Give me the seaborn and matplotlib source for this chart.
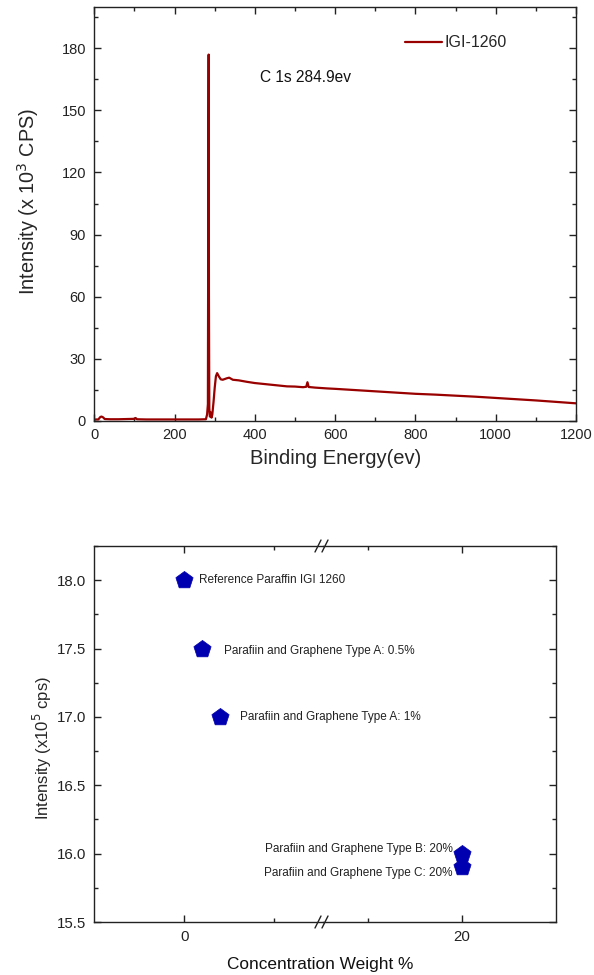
import numpy as np
import pandas as pd
import matplotlib
matplotlib.use("Agg")
import matplotlib.pyplot as plt
from matplotlib.ticker import MultipleLocator, FixedLocator
import seaborn as sns

sns.set_style("ticks")
plt.rcParams['font.family'] = ['Liberation Sans', 'DejaVu Sans']

# ---------------- data: XPS survey spectrum ----------------
energy = [0, 5, 10, 15, 18, 22, 26, 40, 60, 80, 100, 103, 106, 130, 160, 200, 230, 260,
          278, 281, 283, 284, 284.9, 285.6, 286.5, 288, 290, 292, 294, 297, 300, 303, 306,
          310, 315, 320, 330, 336, 345, 360, 380, 400, 420, 450, 480, 500, 520, 528, 531,
          534, 550, 580, 600, 650, 700, 750, 800, 850, 900, 950, 1000, 1050, 1100, 1150, 1200]
intensity = [0.5, 0.6, 0.6, 1.8, 2.0, 1.6, 0.8, 0.7, 0.7, 0.8, 0.9, 1.3, 0.7, 0.6, 0.6, 0.6, 0.6, 0.6,
             0.7, 3.0, 8.0, 110.0, 177.0, 60.0, 6.0, 2.0, 4.0, 1.5, 3.0, 9.0, 16.0, 21.5, 23.0,
             21.5, 20.0, 19.8, 20.5, 20.8, 19.8, 19.5, 18.8, 18.2, 17.8, 17.2, 16.6, 16.5, 16.2, 16.4, 18.6,
             16.3, 16.0, 15.6, 15.4, 14.8, 14.2, 13.6, 13.0, 12.6, 12.1, 11.6, 11.0, 10.4, 9.8, 9.1, 8.4]
series_name = "IGI-1260"

# ---------------- data: intensity vs concentration ----------------
conc = [0, 0.5, 1, 20, 20]
peak_intensity = [18.0, 17.5, 17.0, 16.0, 15.9]
sample_labels = ["Reference Paraffin IGI 1260",
                 "Parafiin and Graphene Type A: 0.5%",
                 "Parafiin and Graphene Type A: 1%",
                 "Parafiin and Graphene Type B: 20%",
                 "Parafiin and Graphene Type C: 20%"]

W, H = 594, 975
fig = plt.figure(figsize=(W / 100, H / 100), dpi=100)

def fx(px):
    return px / W

def fy(py):
    return 1 - py / H

INK = '#222222'

# ---------------- top panel ----------------
ax1 = fig.add_axes([fx(94.3), fy(420.7), fx(576 - 94.3), (420.7 - 7) / H])
df1 = pd.DataFrame({"energy": energy, "intensity": intensity, "s": series_name})
sns.lineplot(data=df1, x="energy", y="intensity", hue="s", palette=["#990000"],
             lw=1.6, ax=ax1, sort=False, estimator=None)
ax1.set_xlim(0, 1200)
ax1.set_ylim(0, 200)
ax1.xaxis.set_major_locator(MultipleLocator(200))
ax1.xaxis.set_minor_locator(MultipleLocator(100))
ax1.yaxis.set_major_locator(FixedLocator([0, 30, 60, 90, 120, 150, 180]))
ax1.yaxis.set_minor_locator(MultipleLocator(15))
ax1.tick_params(which='both', direction='in', top=True, right=True, labelsize=10.5, colors=INK)
ax1.tick_params(which='major', length=5, width=1)
ax1.tick_params(which='minor', length=3, width=1)
ax1.tick_params(axis='y', pad=6)
ax1.tick_params(axis='x', pad=5)
ax1.set_xlabel("Binding Energy(ev)", fontsize=14.5, labelpad=5)
ax1.set_ylabel("Intensity (x 10$^3$ CPS)", fontsize=14.3)
ax1.yaxis.set_label_coords(-0.111, 0.531)
for sp in ax1.spines.values():
    sp.set_linewidth(1.0)
    sp.set_color(INK)
ax1.text(413, 166, "C 1s 284.9ev", fontsize=11.2, va='center', ha='left', color='#111111')
leg = ax1.legend(loc='center left', bbox_to_anchor=(0.645, 0.913), frameon=False,
                 fontsize=11.5, handlelength=2.3, handletextpad=0.15, borderaxespad=0,
                 borderpad=0)

# ---------------- bottom panel (broken x axis) ----------------
x_break = 323
axL = fig.add_axes([fx(94.3), fy(922), fx(x_break - 94.3), (922 - 546) / H])
axR = fig.add_axes([fx(x_break), fy(922), fx(556 - x_break), (922 - 546) / H], sharey=axL)
df2 = pd.DataFrame({"conc": conc, "val": peak_intensity, "label": sample_labels})
for ax in (axL, axR):
    ax.patch.set_visible(False)
    sns.scatterplot(data=df2, x="conc", y="val", marker='p', s=170, color="#0000B0",
                    edgecolor="#0000B0", linewidth=0.5, ax=ax, clip_on=False, zorder=5)
    ax.set_xlabel("")
    ax.set_ylabel("")
    for sp in ax.spines.values():
        sp.set_linewidth(1.0)
        sp.set_color(INK)

axL.set_xlim(-2.5, 3.85)
axR.set_xlim(16.3, 22.5)
axL.set_ylim(15.5, 18.25)
axL.yaxis.set_major_locator(MultipleLocator(0.5))
axL.yaxis.set_minor_locator(MultipleLocator(0.25))
axL.yaxis.set_major_formatter(matplotlib.ticker.FormatStrFormatter('%.1f'))
axL.xaxis.set_major_locator(FixedLocator([0]))
axL.xaxis.set_minor_locator(FixedLocator([2.5]))
axR.xaxis.set_major_locator(FixedLocator([20]))
axR.xaxis.set_minor_locator(FixedLocator([17.5]))
axL.spines['right'].set_visible(False)
axR.spines['left'].set_visible(False)
axL.tick_params(which='both', direction='in', top=True, right=False, left=True, labelsize=10.8,
                colors=INK)
axR.tick_params(which='both', direction='in', top=True, right=True, left=False, labelleft=False,
                labelsize=10.8, colors=INK)
for ax in (axL, axR):
    ax.tick_params(which='major', length=5, width=1)
    ax.tick_params(which='minor', length=3, width=1)
    ax.tick_params(axis='x', pad=6)
    ax.tick_params(axis='y', pad=6)

axL.set_ylabel("Intensity (x10$^5$ cps)", fontsize=12)
axL.yaxis.set_label_coords(-0.176, 0.463)
fig.text(fx(320), fy(964), "Concentration Weight %", fontsize=12.4, ha='center', va='center',
         color='#111111')

# annotations
ann_fs = 8.5
offsets = [(10.8, 0, 'left'), (15.8, -1.5, 'left'), (14.2, 0, 'left'),
           (-6.7, 3, 'right'), (-6.7, -4, 'right')]
for i, (dx, dy, ha) in enumerate(offsets):
    ax = axL if conc[i] < 10 else axR
    ax.annotate(sample_labels[i], (conc[i], peak_intensity[i]), xytext=(dx, dy),
                textcoords='offset points', va='center', ha=ha, fontsize=ann_fs,
                annotation_clip=False, color=INK, zorder=6)

# break marks
for yb in (546, 922):
    for dx in (-5, 2):
        fig.add_artist(plt.Line2D([fx(x_break + dx - 3), fx(x_break + dx + 3)],
                                  [fy(yb + 6), fy(yb - 6)], color=INK, lw=1.0))

fig.savefig("out.png", dpi=100, facecolor='white')
